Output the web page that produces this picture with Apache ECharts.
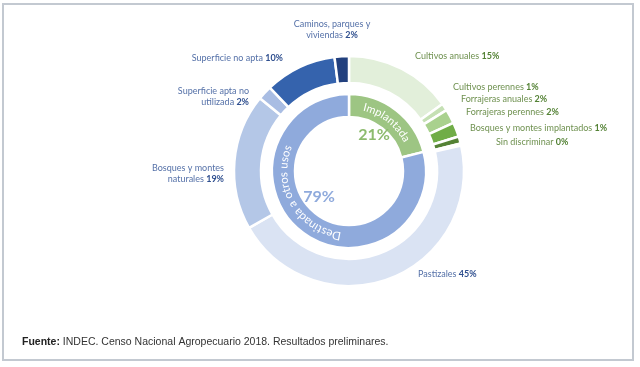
<!DOCTYPE html>
<html>
<head>
<meta charset="utf-8">
<script src="https://cdn.jsdelivr.net/npm/echarts@6/dist/echarts.min.js"></script>
<style>
html,body{margin:0;padding:0;background:#fff;}
#chart{width:640px;height:367px;}
</style>
</head>
<body>
<div id="chart"></div>
<script>
// ---- data ----
const outerCategories = [
  'Cultivos anuales', 'Cultivos perennes', 'Forrajeras anuales', 'Forrajeras perennes',
  'Bosques y montes implantados', 'Sin discriminar',
  'Pastizales', 'Bosques y montes\nnaturales', 'Superficie apta no\nutilizada',
  'Superficie no apta', 'Caminos, parques y\nviviendas'
];
const outerValues = [15, 1, 2, 2, 1, 0.3, 45, 19, 2, 10, 2];
const outerGroup = ['g','g','g','g','g','g','b','b','b','b','b'];
const innerCategories = ['Implantada', 'Destinada a otros usos'];
const innerValues = [21, 79];
const sourceLabel = 'Fuente:';
const sourceText = ' INDEC. Censo Nacional Agropecuario 2018. Resultados preliminares.';

// ---- styling / layout ----
const outerColors = ['#e2efda','#c5e0b4','#a9d18e','#70ad47','#548235','#375623',
                     '#dae3f3','#b4c7e7','#a9bde3','#3563ad','#22407e'];
const innerColors = ['#9dc583','#8faadc'];
const CX = 349, CY = 171;
const R_OUT = [88, 115], R_IN = [54, 77];
const labelAnchors = [
  [415, 56, 'left'], [453, 87, 'left'], [461, 99, 'left'], [466, 112, 'left'],
  [470, 128, 'left'], [496, 142, 'left'], [418, 274, 'left'],
  [224, 174, 'right'], [249, 97, 'right'], [283, 58, 'right'], [332, 30, 'center']
];
const FONT = 'Lato';

const chart = echarts.init(document.getElementById('chart'));

function fmt(params) {
  const i = params.dataIndex;
  const grp = outerGroup[i];
  const lines = params.name.split('\n');
  const n = grp === 'g' ? 'gn' : 'bn';
  const p = grp === 'g' ? 'gp' : 'bp';
  let s = lines.map(l => '{' + n + '|' + l + '}').join('\n');
  s += '{' + n + '| }{' + p + '|' + Math.round(params.value) + '%}';
  return s;
}

// curved text along the inner ring
const measureCtx = document.createElement('canvas').getContext('2d');
function arcText(text, centerDeg, r, font, color, spacing) {
  measureCtx.font = font;
  const widths = Array.from(text).map(ch => measureCtx.measureText(ch).width + spacing);
  const total = widths.reduce((a, b) => a + b, 0);
  let ang = centerDeg * Math.PI / 180 - total / r / 2;
  const out = [];
  Array.from(text).forEach((ch, k) => {
    const a = ang + widths[k] / 2 / r;
    out.push({
      type: 'text', x: CX + r * Math.sin(a), y: CY - r * Math.cos(a), rotation: -a, z: 100,
      style: { text: ch, font: font, fill: color, align: 'center', verticalAlign: 'middle' }
    });
    ang += widths[k] / r;
  });
  return out;
}
const innerTotal = innerValues.reduce((a, b) => a + b, 0);
const implMid = innerValues[0] / innerTotal * 180;
const ringMid = (R_IN[0] + R_IN[1]) / 2;

const graphics = [
  { type: 'rect', shape: { x: 3, y: 4, width: 630, height: 356 }, z: -10,
    style: { fill: '#fff', stroke: '#c3c9d1', lineWidth: 2 } },
  { type: 'text', x: 22, y: 342, style: {
      text: '{b|' + sourceLabel + '}{r|' + sourceText + '}', verticalAlign: 'middle',
      rich: { b: { font: 'bold 10.5px "Liberation Sans"', fill: '#222' },
              r: { font: '10.5px "Liberation Sans"', fill: '#333' } } } },
  { type: 'text', x: 374, y: 135, z: 100, style: { text: Math.round(innerValues[0]) + '%',
      font: 'bold 16px ' + FONT, fill: '#8dbb6e', align: 'center', verticalAlign: 'middle' } },
  { type: 'text', x: 319, y: 197, z: 100, style: { text: Math.round(innerValues[1]) + '%',
      font: 'bold 16px ' + FONT, fill: '#8faadc', align: 'center', verticalAlign: 'middle' } }
].concat(
  arcText(innerCategories[0], implMid, ringMid, '11px ' + FONT, '#fff', 0.4),
  arcText(innerCategories[1], 240, ringMid, '11.5px ' + FONT, '#fff', 0.3)
);

const option = {
  animation: false,
  backgroundColor: '#fff',
  graphic: graphics,
  series: [
    {
      type: 'pie', center: [CX, CY], radius: R_OUT, startAngle: 90, clockwise: true,
      itemStyle: { borderColor: '#fff', borderWidth: 2.5 },
      label: {
        show: true, position: 'outside', formatter: fmt, lineHeight: 11, overflow: 'none',
        rich: {
          gn: { fontFamily: FONT, fontSize: 9, color: '#6f9150' },
          gp: { fontFamily: FONT, fontSize: 9, fontWeight: 'bold', color: '#548235' },
          bn: { fontFamily: FONT, fontSize: 9, color: '#5571a8' },
          bp: { fontFamily: FONT, fontSize: 9, fontWeight: 'bold', color: '#2f4f8f' }
        }
      },
      labelLine: { show: false },
      labelLayout: function (params) {
        const a = labelAnchors[params.dataIndex];
        return { x: a[0], y: a[1], align: a[2], verticalAlign: 'middle', hideOverlap: false };
      },
      emphasis: { disabled: true },
      data: outerCategories.map((c, i) => ({ name: c, value: outerValues[i], itemStyle: { color: outerColors[i] } }))
    },
    {
      type: 'pie', center: [CX, CY], radius: R_IN, startAngle: 90, clockwise: true,
      itemStyle: { borderColor: '#fff', borderWidth: 2.5 },
      label: { show: false }, labelLine: { show: false },
      emphasis: { disabled: true },
      data: innerCategories.map((c, i) => ({ name: c, value: innerValues[i], itemStyle: { color: innerColors[i] } }))
    }
  ]
};
chart.setOption(option);
</script>
</body>
</html>
